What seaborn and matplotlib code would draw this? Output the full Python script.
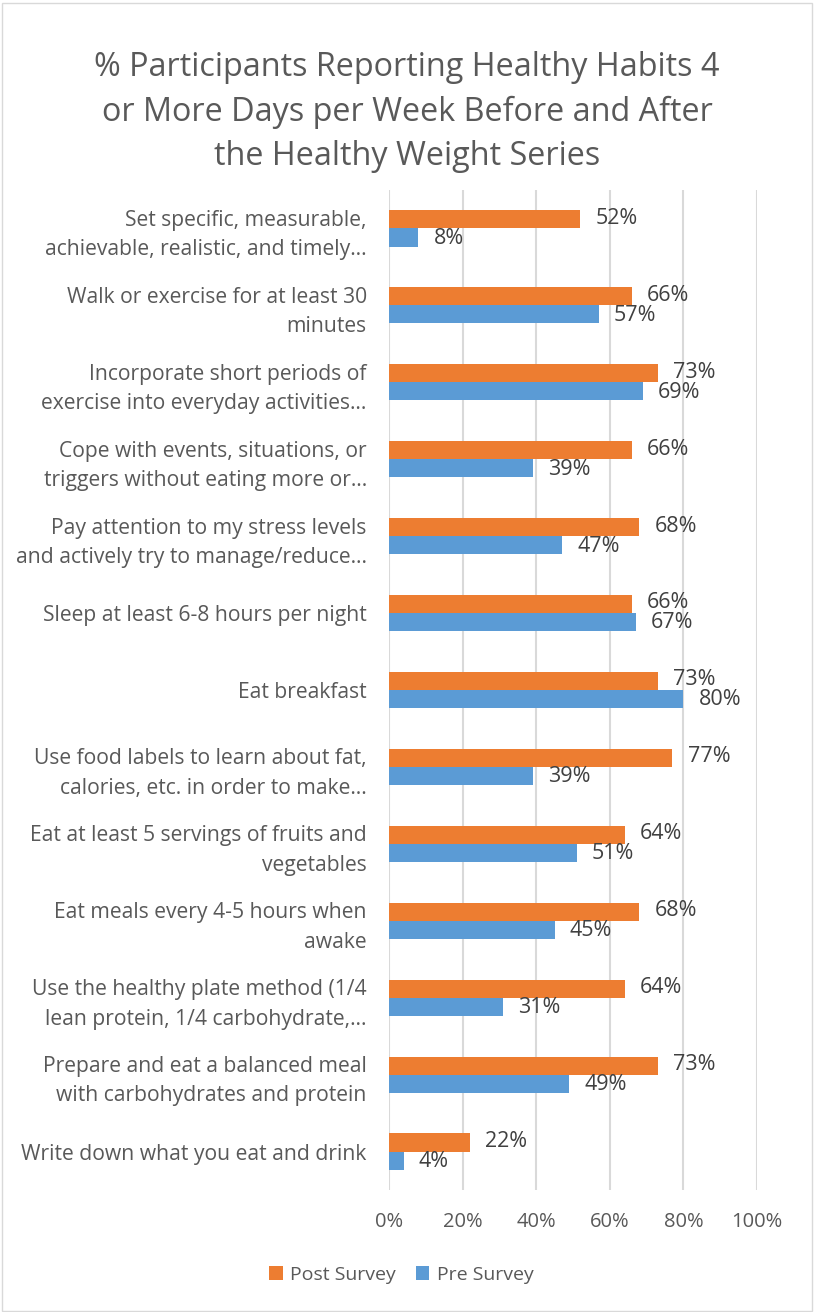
import matplotlib
matplotlib.use("Agg")
import matplotlib.pyplot as plt
import seaborn as sns
import pandas as pd
from matplotlib.patches import Rectangle, Patch

categories = [
    "Set specific, measurable,\nachievable, realistic, and timely…",
    "Walk or exercise for at least 30\nminutes",
    "Incorporate short periods of\nexercise into everyday activities…",
    "Cope with events, situations, or\ntriggers without eating more or…",
    "Pay attention to my stress levels\nand actively try to manage/reduce…",
    "Sleep at least 6-8 hours per night",
    "Eat breakfast",
    "Use food labels to learn about fat,\ncalories, etc. in order to make…",
    "Eat at least 5 servings of fruits and\nvegetables",
    "Eat meals every 4-5 hours when\nawake",
    "Use the healthy plate method (1/4\nlean protein, 1/4 carbohydrate,…",
    "Prepare and eat a balanced meal\nwith carbohydrates and protein",
    "Write down what you eat and drink",
]
post_survey = [52, 66, 73, 66, 68, 66, 73, 77, 64, 68, 64, 73, 22]
pre_survey = [8, 57, 69, 39, 47, 67, 80, 39, 51, 45, 31, 49, 4]
series_names = ["Post Survey", "Pre Survey"]
x_ticks = [0, 20, 40, 60, 80, 100]
title = "% Participants Reporting Healthy Habits 4\nor More Days per Week Before and After\nthe Healthy Weight Series"

df = pd.DataFrame({
    "category": categories * 2,
    "value": post_survey + pre_survey,
    "series": [series_names[0]] * len(categories) + [series_names[1]] * len(categories),
})

sns.set_style("white")
plt.rcParams["font.family"] = ["Open Sans", "DejaVu Sans"]
TEXT = "#595959"
colors = {"Post Survey": "#ED7D31", "Pre Survey": "#5B9BD5"}

fig = plt.figure(figsize=(8.14, 13.12), dpi=100)
ax = fig.add_axes([389 / 814, 1 - 1190 / 1312, (757 - 389) / 814, 1000 / 1312])

sns.barplot(data=df, y="category", x="value", hue="series", order=categories,
            hue_order=series_names, palette=colors, orient="h", width=0.47,
            saturation=1, linewidth=0, ax=ax, legend=False)

ax.set_xlim(0, 100)
ax.set_xticks(x_ticks)
ax.set_xticklabels([f"{t}%" for t in x_ticks], color=TEXT, fontsize=14.5)
ax.tick_params(axis="x", length=0, pad=16)
ax.tick_params(axis="y", length=0, pad=16)
ax.set_yticklabels(categories, color=TEXT, fontsize=15.2, linespacing=1.52)
ax.set_xlabel("")
ax.set_ylabel("")
ax.grid(axis="x", color="#D9D9D9", linewidth=1.5)
ax.set_axisbelow(True)
for s in ax.spines.values():
    s.set_visible(False)

for cont, vals, dy in zip(ax.containers, [post_survey, pre_survey], [0.8, -0.6]):
    texts = ax.bar_label(cont, labels=[f"{v}%" for v in vals], padding=11,
                         color="#404040", fontsize=15.5)
    for t in texts:
        t.xyann = (11, dy)

fig.text(0.5, 1 - 112 / 1312, title, ha="center", va="center", fontsize=23.3,
         color=TEXT, linespacing=1.45)

handles = [Patch(facecolor=colors[n], edgecolor="none") for n in series_names]
fig.legend(handles, series_names, loc="center", bbox_to_anchor=(0.493, 1 - 1275 / 1312),
           ncol=2, frameon=False, fontsize=14, handlelength=0.7, handleheight=0.7,
           handletextpad=0.4, columnspacing=1.0, labelcolor=TEXT)

fig.patches.append(Rectangle((0.002, 0.001), 0.996, 0.997, transform=fig.transFigure,
                             fill=False, edgecolor="#D9D9D9", linewidth=1))

fig.savefig("out.png", dpi=100)
